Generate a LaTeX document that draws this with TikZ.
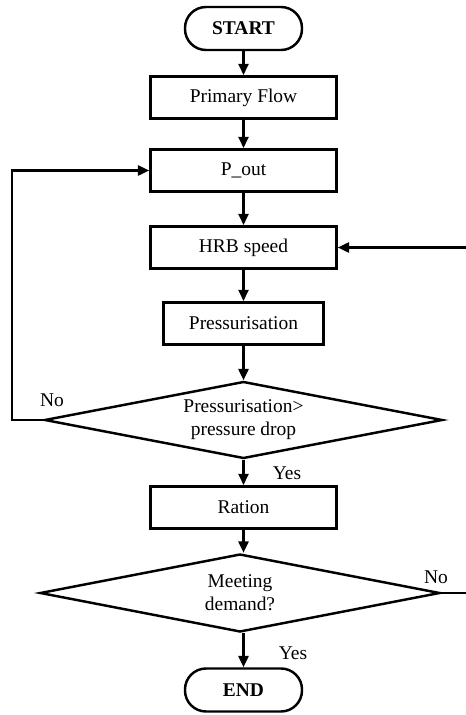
\documentclass[tikz,border=0pt]{standalone}
\usepackage{fontspec}
\setmainfont{Liberation Serif}
\usepackage{tikz}
\usetikzlibrary{arrows.meta,positioning,shapes.geometric,calc}
\newcommand{\flowfont}{\fontsize{16.6pt}{19.8pt}\selectfont}

\begin{document}
\begin{tikzpicture}[
  line width=2.1pt,
  box/.style={draw, minimum width=5.58cm, minimum height=1.27cm, font=\flowfont},
  term/.style={draw, rounded corners=0.63cm, minimum width=3.51cm, minimum height=1.29cm, font=\flowfont\bfseries},
  dec/.style={draw, diamond, aspect=5.2, inner sep=0pt, align=center, font=\flowfont},
  lab/.style={font=\flowfont},
  arr/.style={-{Triangle[length=0.34cm,width=0.3cm]}}
]
\useasboundingbox (0,0) rectangle (13.98,-21.45);
\node[term] (start) at (7.305,-0.855) {START};
\node[box] (flow) at (7.305,-2.925) {Primary Flow};
\node[box] (pout) at (7.305,-5.115) {P\_out};
\node[box] (hrb) at (7.305,-7.425) {HRB speed};
\node[box, minimum width=4.8cm] (press) at (7.305,-9.705) {Pressurisation};
\node[dec, minimum width=11.94cm, minimum height=2.31cm] (check) at (7.305,-12.6) {Pressurisation>\\pressure drop};
\node[box] (ration) at (7.305,-15.225) {Ration};
\node[dec, minimum width=12cm, minimum height=2.34cm] (demand) at (7.2,-17.79) {Meeting\\demand?};
\node[term] (end) at (7.305,-20.7) {END};
\coordinate (loopx) at (0.36,-12.6);
\coordinate (rin) at (13.98,-7.425);
\coordinate (rout) at (13.98,-17.79);
% main line
\draw[arr] (start) -- (flow);
\draw[arr] (flow) -- (pout);
\draw[arr] (pout) -- (hrb);
\draw[arr] (hrb) -- (press);
\draw[arr] (press) -- (check.north);
\draw[arr] (check.south) -- (ration);
\draw[arr] (ration) -- (demand.north -| ration);
\draw[arr] (demand.south -| end) -- (end);
% loops
\draw[arr] (check.west) -- (loopx) |- (pout.west);
\draw[arr] (rin) -- (hrb.east);
\draw (demand.east) -- (rout);
\node[lab] (no1) at (1.56,-12.0) {No};
\node[lab] (yes1) at (8.61,-14.19) {Yes};
\node[lab] (no2) at (13.08,-17.31) {No};
\node[lab] (yes2) at (8.79,-19.59) {Yes};
\end{tikzpicture}
\end{document}
